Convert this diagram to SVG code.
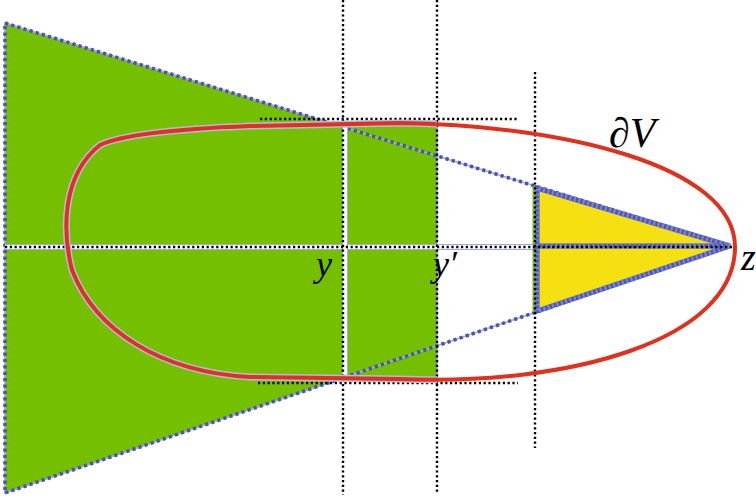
<svg xmlns="http://www.w3.org/2000/svg" width="756" height="502" viewBox="0 0 756 502">
<defs>
<style>
.green{fill:#74c000;stroke:#8a90cc;stroke-width:1.3}
.yellow{fill:#f5e011;stroke:none}
.tri-edge{fill:none;stroke:#4a52b5;stroke-width:3.6;stroke-dasharray:3.2 3.2}
.tri-under{fill:none;stroke:#9fb0c8;stroke-width:1.6}
.yel-edge{fill:none;stroke:#4e58b8;stroke-width:5}
.yel-dots{fill:none;stroke:#7c86d4;stroke-width:5;stroke-dasharray:2 2.6}
.gap{fill:none;stroke:#ffffff;stroke-width:4}
.gap-edge{fill:none;stroke:#a3a9d8;stroke-width:6}
.guide{fill:none;stroke:#000000;stroke-width:2.4;stroke-dasharray:2.2 2.6}
.boundary{fill:none;stroke:#e0301e;stroke-width:4}
.halo{fill:none;stroke:#b4b9e0;stroke-width:7}
.math{font-family:"Liberation Serif","DejaVu Serif",serif;font-style:italic;fill:#000000}
</style>
<clipPath id="greenClip">
<rect x="0" y="0" width="437" height="502"/>
</clipPath>
</defs>
<rect x="0" y="0" width="756" height="502" fill="#ffffff"/>

<g id="green-regions">
<polygon id="g1" class="green" points="5,23 343,127 343,245 5,245"/>
<polygon id="g2" class="green" points="5,249 343,249 343,378 5,493"/>
<polygon id="g3" class="green" points="347,125 437,125 437,245 347,245"/>
<polygon id="g4" class="green" points="347,249 437,249 437,378 347,378"/>
</g>

<g id="yellow-region">
<polygon class="yellow" points="537,188 730,246 537,311"/>
</g>

<g id="connectors">
<!-- big triangle edges -->
<polyline class="tri-under" points="5,23 730,246 5,493 5,23"/>
<polyline class="tri-edge" points="730,246 5,23 5,493 730,246"/>
<!-- separating gaps -->
<line class="gap-edge" x1="5" y1="247" x2="535" y2="247"/>
<line class="gap" x1="5" y1="247" x2="535" y2="247"/>
<line class="gap-edge" x1="345" y1="126" x2="345" y2="377"/>
<line class="gap" x1="345" y1="126" x2="345" y2="377"/>
<!-- yellow triangle edges -->
<line x1="533.5" y1="186" x2="533.5" y2="312" stroke="#74c000" stroke-width="2"/>
<polyline class="yel-edge" points="730,246 537,188 537,311 730,246"/>
<polyline class="yel-dots" points="730,246 537,188 537,311 730,246"/>
<line class="yel-edge" x1="537" y1="246" x2="728" y2="246"/>
<line class="yel-dots" x1="537" y1="246" x2="728" y2="246"/>
<!-- dotted guide lines -->
<line class="guide" x1="5" y1="247" x2="732" y2="247"/>
<line class="guide" x1="343" y1="0" x2="343" y2="495"/>
<line class="guide" x1="437" y1="0" x2="437" y2="494"/>
<line class="guide" x1="535" y1="72" x2="535" y2="448"/>
<line class="guide" x1="260" y1="119" x2="519" y2="119"/>
<line class="guide" x1="258" y1="383" x2="518" y2="383"/>
</g>

<g id="boundary-curve">
<path class="halo" clip-path="url(#greenClip)" d="M 400,123 C 560,125 735,165 735,247 C 735,340 570,386 400,379 L 250,377 C 160,372 95,330 72,270 C 62,230 62,175 100,145 C 125,133 200,128 250,126 Z"/>
<path class="boundary" d="M 400,123 C 560,125 735,165 735,247 C 735,340 570,386 400,379 L 250,377 C 160,372 95,330 72,270 C 62,230 62,175 100,145 C 125,133 200,128 250,126 Z"/>
</g>

<g id="labels">
<text class="math" x="316" y="276" font-size="36">y</text>
<text class="math" x="433" y="276" font-size="36">y′</text>
<text class="math" x="609" y="147" font-size="42">∂V</text>
<text class="math" x="741" y="270" font-size="38">z</text>
</g>
</svg>
